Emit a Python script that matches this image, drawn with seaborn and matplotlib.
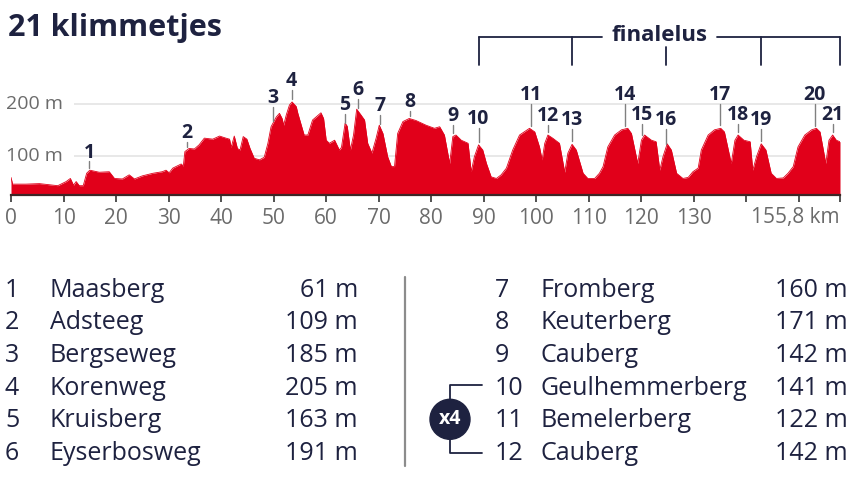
import numpy as np
import pandas as pd
import matplotlib
matplotlib.use("Agg")
import matplotlib.pyplot as plt
import seaborn as sns
from matplotlib.patches import Circle

# ---------------- data ----------------
dist_km = [0.0, 0.3, 2.8, 5.4, 7.9, 8.9, 10.5, 11.3, 11.9, 12.4, 13.0, 13.75, 14.4, 15.0,
           16.8, 18.7, 19.7, 21.2, 22.5, 23.5, 25.0, 27.0, 28.8, 29.5, 30.1, 30.8, 32.4,
           32.8, 33.1, 33.9, 34.9, 35.8, 36.8, 38.4, 39.7, 40.9, 41.6, 41.9, 42.5, 43.1,
           43.6, 44.2, 44.9, 45.5, 46.3, 47.3, 48.2, 48.9, 49.5, 50.5, 51.1, 51.6, 51.9,
           52.4, 53.0, 53.5, 54.3, 54.6, 55.8, 56.5, 57.4, 59.0, 59.5, 60.0, 60.6, 61.6,
           62.5, 62.9, 63.6, 64.0, 64.6, 65.2, 65.8, 66.6, 67.3, 67.9, 68.7, 69.5, 70.1,
           70.8, 71.7, 72.4, 73.0, 73.6, 74.6, 75.8, 77.1, 79.0, 80.6, 81.6, 82.5, 83.5,
           84.1, 84.7, 85.7, 87.0, 87.6, 88.2, 89.0, 89.8, 90.5, 91.4, 92.4, 93.3, 94.3,
           95.5, 96.8, 98.7, 99.7, 100.6, 101.1, 101.6, 102.2, 103.1, 104.4, 105.4, 106.0,
           106.8, 107.6, 108.9, 109.8, 111.1, 112.0, 112.7, 113.6, 114.9, 116.2, 117.4,
           118.1, 119.3, 120.0, 120.6, 121.9, 122.8, 123.5, 124.1, 124.9, 125.7, 126.7,
           127.9, 128.9, 129.8, 130.8, 131.4, 132.7, 133.9, 135.1, 135.8, 137.1, 137.8,
           138.4, 139.5, 140.7, 141.2, 141.9, 142.8, 143.7, 144.7, 145.7, 147.0, 147.9,
           148.9, 149.8, 151.1, 152.4, 153.3, 154.0, 155.1, 155.7, 156.4, 157.1, 157.8]
elev_m = [58, 45, 45, 46, 43, 42, 50, 56, 43, 50, 42, 42, 66, 72,
          68, 69, 56, 55, 63, 55, 61, 66, 69, 72, 67, 76, 84,
          80, 108, 114, 113, 121, 134, 132, 138, 134, 132, 116, 138, 114,
          111, 137, 132, 114, 95, 92, 97, 124, 156, 175, 182, 172, 159,
          179, 198, 204, 195, 182, 140, 140, 169, 183, 172, 130, 124, 130,
          111, 116, 163, 157, 111, 140, 190, 179, 169, 124, 105, 134, 159,
          143, 98, 79, 79, 143, 166, 172, 168, 159, 153, 156, 140, 85,
          137, 140, 130, 124, 69, 98, 121, 111, 85, 59, 56, 63, 76,
          111, 140, 153, 146, 117, 92, 124, 140, 134, 124, 68, 105,
          122, 111, 66, 56, 56, 66, 79, 117, 140, 150, 153,
          143, 85, 130, 140, 130, 127, 72, 98, 123, 111, 66,
          56, 58, 69, 76, 111, 140, 150, 153, 146, 85, 130,
          140, 130, 127, 72, 98, 123, 111, 66, 56, 57, 66,
          79, 117, 140, 150, 153, 146, 85, 130, 140, 130, 127]

climb_no = [str(i) for i in range(1, 22)]
climb_km = [14.9, 33.5, 49.8, 53.4, 63.5, 66.1, 70.3, 76.0, 84.1, 89.0, 98.9,
            102.3, 106.8, 116.8, 120.2, 124.7, 135.0, 138.4, 142.8, 153.0, 156.4]

legend_names = ["Maasberg", "Adsteeg", "Bergseweg", "Korenweg", "Kruisberg", "Eyserbosweg",
                "Fromberg", "Keuterberg", "Cauberg", "Geulhemmerberg", "Bemelerberg", "Cauberg"]
legend_heights = [61, 109, 185, 205, 163, 191, 160, 171, 142, 141, 122, 142]

x_tick_vals = [0, 10, 20, 30, 40, 50, 60, 70, 80, 90, 100, 110, 120, 130, 140, 150]
x_tick_text = ["0", "10", "20", "30", "40", "50", "60", "70", "80", "90", "100", "110",
               "120", "130", "", ""]
end_label = "155,8 km"
y_grid_vals = [100, 200]
y_grid_text = ["100 m", "200 m"]

title = "21 klimmetjes"
loop_label = "finalelus"
loop_badge = "x4"

# ---------------- layout / style ----------------
label_elev = [96, 134, 202, 235, 188, 217, 186, 194, 167, 161, 207, 167, 159,
              207, 169, 159, 207, 169, 159, 207, 169]

RED = "#e1001a"
NAVY = "#1e2240"
GRAY = "#6b6b6b"

sns.set_theme(style="white")
plt.rcParams["font.family"] = ["Open Sans", "DejaVu Sans"]

W, H = 854, 480
fig = plt.figure(figsize=(W / 100, H / 100), dpi=100)

x0_px, x1_px = 11.0, 840.0
yb_px, yt_px = 195.0, 20.0
ax = fig.add_axes([x0_px / W, 1 - yb_px / H, (x1_px - x0_px) / W, (yb_px - yt_px) / H])
px_per_m = 0.517
y_zero_px = 207.4
ymin = (y_zero_px - yb_px) / px_per_m
ymax = (y_zero_px - yt_px) / px_per_m
xend = dist_km[-1]
ax.set_xlim(0, xend)
ax.set_ylim(ymin, ymax)
km_px = (x1_px - x0_px) / xend

df = pd.DataFrame({"km": dist_km, "m": elev_m})
ax.hlines(y_grid_vals, 11.9, xend, color="#e6e6e6", lw=1.3, zorder=0)
ax.fill_between(df["km"], 0, df["m"], color=RED, lw=0, zorder=2)
sns.lineplot(data=df, x="km", y="m", color=RED, lw=0.6, ax=ax, zorder=3)

for v, t in zip(y_grid_vals, y_grid_text):
    ax.text(-1.0, v, t, ha="left", va="center", fontsize=14, color=GRAY, zorder=1)

# climb labels
for n, k, le in zip(climb_no, climb_km, label_elev):
    peak = np.interp(k, dist_km, elev_m)
    ax.plot([k, k], [le - 7, peak + 6], color="#808080", lw=1, zorder=4)
    ax.text(k, le, n, ha="center", va="baseline", fontsize=14, fontweight="bold",
            color=NAVY, zorder=5)

# finale loop bracket
loop_marks = [climb_km[9], climb_km[12], climb_km[15], climb_km[18], xend]
y_line = (y_zero_px - 37) / px_per_m
y_tick_end = (y_zero_px - 65) / px_per_m
y_mid_start = (y_zero_px - 47) / px_per_m
txt_x = (660 - x0_px) / km_px
gap_l = (601.7 - x0_px) / km_px
gap_r = (717 - x0_px) / km_px
kw = dict(color=NAVY, lw=1.3, clip_on=False, zorder=4)
ax.plot([loop_marks[0], gap_l], [y_line, y_line], **kw)
ax.plot([gap_r, loop_marks[-1]], [y_line, y_line], **kw)
for i, m in enumerate(loop_marks):
    ys = y_mid_start if i == 2 else y_line
    ax.plot([m, m], [ys, y_tick_end], **kw)
ax.text(txt_x, y_line + 2, loop_label, ha="center", va="center", fontsize=16,
        fontweight="bold", color=NAVY)

# axes styling
for s in ["top", "left", "right"]:
    ax.spines[s].set_visible(False)
ax.spines["bottom"].set_color("#3d2626")
ax.spines["bottom"].set_linewidth(1.6)
ax.set_yticks([])
ax.set_xticks(x_tick_vals + [xend])
ax.set_xticklabels(x_tick_text + [end_label])
ax.tick_params(axis="x", direction="out", length=5, width=1.2, color="#333333",
               labelsize=15, labelcolor=GRAY, pad=4, bottom=True)
ax.get_xticklabels()[-1].set_ha("right")
ax.set_xlabel("")
ax.set_ylabel("")
ax.grid(False)

# overlay in pixel coordinates
ov = fig.add_axes([0, 0, 1, 1])
ov.set_xlim(0, W)
ov.set_ylim(H, 0)
ov.axis("off")

ov.text(8, 36, title, ha="left", va="baseline", fontsize=22, fontweight="bold", color=NAVY)

row0, dy = 296.7, 32.65
for i, (nm, hgt) in enumerate(zip(legend_names, legend_heights)):
    col = 0 if i < 6 else 1
    r = i % 6
    yb = row0 + r * dy
    xn, xname, xh = (5, 50, 358) if col == 0 else (495, 541, 848)
    ov.text(xn, yb, str(i + 1), ha="left", va="baseline", fontsize=18, color=NAVY)
    ov.text(xname, yb, nm, ha="left", va="baseline", fontsize=18, color=NAVY)
    ov.text(xh, yb, f"{hgt} m", ha="right", va="baseline", fontsize=18, color=NAVY)

ov.plot([405, 405], [277, 466], color="#8c8c8c", lw=1.6)

cx, cy, rr = 450, 419.3, 20
ov.add_patch(Circle((cx, cy), rr, color=NAVY, zorder=3))
ov.text(cx, cy, loop_badge, ha="center", va="center", fontsize=14, fontweight="bold",
        color="white", zorder=4)
ov.plot([cx, cx, 482], [cy - rr, 385, 385], color=NAVY, lw=1.3)
ov.plot([cx, cx, 482], [cy + rr, 452.7, 452.7], color=NAVY, lw=1.3)

fig.savefig("out.png", dpi=100)
